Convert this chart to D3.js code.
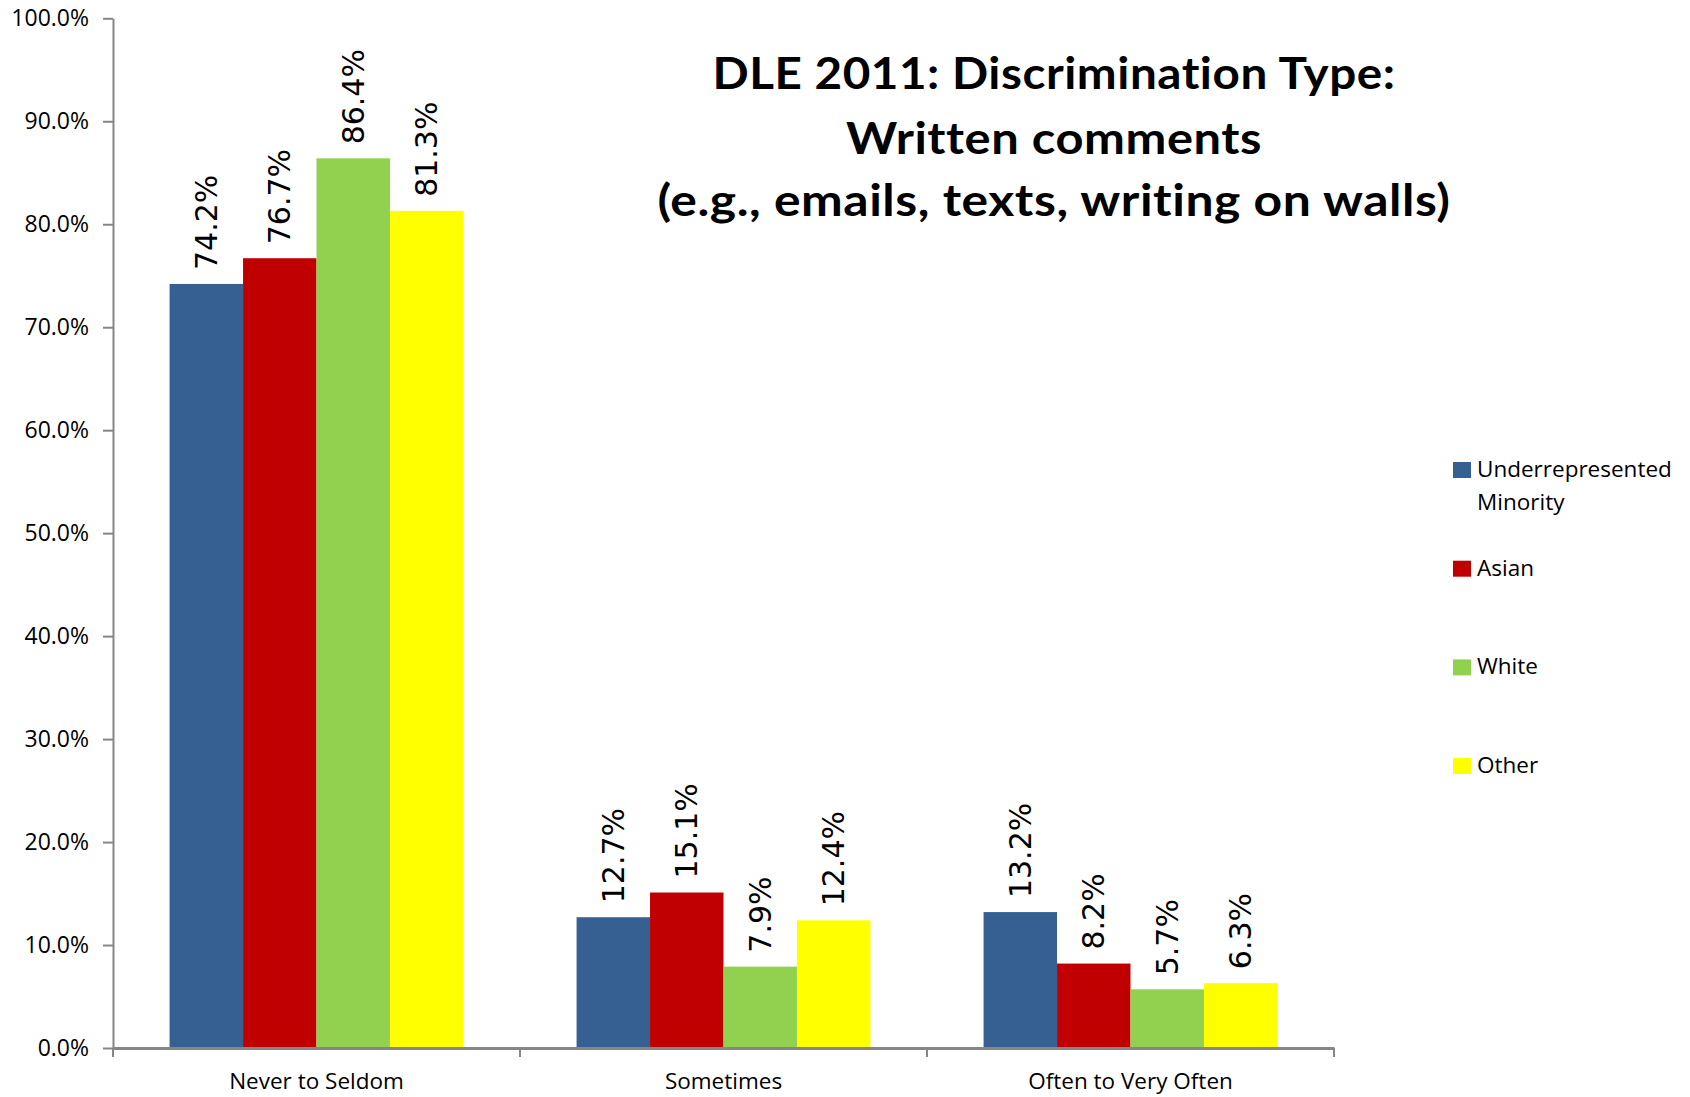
<!DOCTYPE html>
<html>
<head>
<meta charset="utf-8">
<script src="https://cdn.jsdelivr.net/npm/d3@7"></script>
<style>
  html, body { margin: 0; padding: 0; background: #ffffff; }
  svg { display: block; }
  text { font-variant-ligatures: none; font-feature-settings: "liga" 0, "clig" 0, "dlig" 0, "calt" 0; }
</style>
</head>
<body>
<script>
// ---- data ----
const categories = ["Never to Seldom", "Sometimes", "Often to Very Often"];
const seriesNames = ["Underrepresented Minority", "Asian", "White", "Other"];
const urmValues   = [74.2, 12.7, 13.2];
const asianValues = [76.7, 15.1, 8.2];
const whiteValues = [86.4, 7.9, 5.7];
const otherValues = [81.3, 12.4, 6.3];
const seriesColors = ["#366092", "#C00000", "#92D050", "#FFFF00"];
const yTicks = [0, 10, 20, 30, 40, 50, 60, 70, 80, 90, 100];
const yTickLabels = ["0.0%", "10.0%", "20.0%", "30.0%", "40.0%", "50.0%", "60.0%", "70.0%", "80.0%", "90.0%", "100.0%"];
const titleLines = ["DLE 2011: Discrimination Type:", "Written comments", "(e.g., emails, texts, writing on walls)"];

const seriesValues = [urmValues, asianValues, whiteValues, otherValues];

// ---- layout ----
const W = 1690, H = 1097;
const plot = { left: 113, right: 1334, top: 18.3, bottom: 1048 };
const axisColor = "#868686";

const svg = d3.select("body").append("svg")
  .attr("width", W).attr("height", H)
  .style("background", "#ffffff");

const x0 = d3.scaleBand().domain(categories)
  .range([plot.left, plot.right]).paddingInner(0).paddingOuter(0);
const x1 = d3.scaleBand().domain(seriesNames)
  .range([0, x0.bandwidth()]).paddingInner(0).paddingOuter(0.77);
const y = d3.scaleLinear().domain([0, 100]).range([plot.bottom, plot.top]);

// bars
const groups = svg.append("g").selectAll("g")
  .data(categories).join("g")
  .attr("transform", d => `translate(${x0(d)},0)`);

groups.selectAll("rect")
  .data((c, ci) => seriesNames.map((s, si) => ({ s, si, v: seriesValues[si][ci] })))
  .join("rect")
  .attr("x", d => x1(d.s))
  .attr("y", d => y(d.v))
  .attr("width", x1.bandwidth())
  .attr("height", d => y(0) - y(d.v))
  .attr("fill", d => seriesColors[d.si]);

// value labels
groups.selectAll("text.val")
  .data((c, ci) => seriesNames.map((s, si) => ({ s, si, v: seriesValues[si][ci] })))
  .join("text")
  .attr("class", "val")
  .attr("transform", d => `translate(${x1(d.s) + x1.bandwidth() / 2},${y(d.v) - 14}) rotate(-90)`)
  .attr("text-anchor", "start")
  .attr("dy", "0.35em")
  .attr("font-family", "'DejaVu Sans', sans-serif")
  .attr("font-size", 30)
  .attr("fill", "#000")
  .text(d => d.v.toFixed(1) + "%");

// y axis
const yAxis = svg.append("g")
  .attr("transform", `translate(${plot.left},0)`)
  .call(d3.axisLeft(y).tickValues(yTicks)
    .tickFormat((d, i) => yTickLabels[i])
    .tickSize(10).tickSizeOuter(0).tickPadding(14));
yAxis.select(".domain").attr("stroke", axisColor).attr("stroke-width", 2);
yAxis.selectAll(".tick line").attr("stroke", axisColor).attr("stroke-width", 2);
yAxis.selectAll(".tick text")
  .attr("font-family", "'Open Sans', sans-serif")
  .attr("font-size", 23).attr("fill", "#000");

// x axis
const xAxis = svg.append("g")
  .attr("transform", `translate(0,${plot.bottom})`)
  .call(d3.axisBottom(x0).tickSize(0).tickSizeOuter(0).tickPadding(25));
xAxis.select(".domain").attr("stroke", axisColor).attr("stroke-width", 3);
xAxis.selectAll(".tick text")
  .attr("font-family", "'Open Sans', sans-serif")
  .attr("font-size", 22.5).attr("fill", "#000");

// boundary ticks between categories
const boundaries = d3.range(categories.length + 1).map(i => plot.left + i * x0.step());
xAxis.selectAll("line.bound")
  .data(boundaries).join("line")
  .attr("class", "bound")
  .attr("x1", d => d).attr("x2", d => d)
  .attr("y1", 0).attr("y2", 9)
  .attr("stroke", axisColor).attr("stroke-width", 2);

// title
const titleBaselines = [89, 154, 216];
const titleWidths = [683, 416, 793];
svg.append("g").selectAll("text")
  .data(titleLines).join("text")
  .attr("x", 1054)
  .attr("y", (d, i) => titleBaselines[i])
  .attr("text-anchor", "middle")
  .attr("font-family", "Lato, 'Open Sans', sans-serif")
  .attr("font-weight", "bold")
  .attr("font-size", 44)
  .style("letter-spacing", "0.5px")
  .style("font-variant-ligatures", "none")
  .attr("textLength", (d, i) => titleWidths[i])
  .attr("lengthAdjust", "spacingAndGlyphs")
  .attr("fill", "#000")
  .text(d => d);

// legend
const legend = svg.append("g").attr("transform", "translate(1453,462)");
const legItems = legend.selectAll("g")
  .data(seriesNames).join("g")
  .attr("transform", (d, i) => `translate(0,${i * 98.7})`);
legItems.append("rect")
  .attr("width", 18).attr("height", 16)
  .attr("fill", (d, i) => seriesColors[i]);
legItems.append("text")
  .attr("x", 24).attr("y", 15)
  .attr("font-family", "'Open Sans', sans-serif")
  .attr("font-size", 22.5).attr("fill", "#000")
  .each(function (d) {
    const words = d === "Underrepresented Minority" ? ["Underrepresented", "Minority"] : [d];
    const t = d3.select(this);
    words.forEach((w, k) => {
      t.append("tspan").attr("x", 24).attr("dy", k === 0 ? 0 : 33).text(w);
    });
  });
</script>
</body>
</html>
